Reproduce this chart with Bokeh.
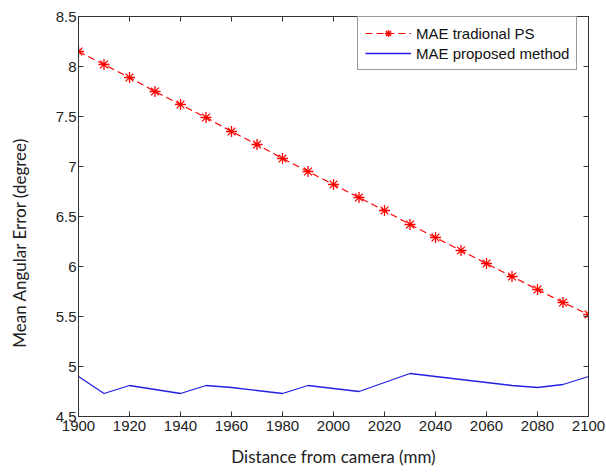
from bokeh.plotting import figure
from bokeh.models import FixedTicker, LinearAxis, Range1d, Legend, LegendItem
from bokeh.embed import file_html
from bokeh.resources import INLINE

distance = [1900, 1910, 1920, 1930, 1940, 1950, 1960, 1970, 1980, 1990, 2000,
            2010, 2020, 2030, 2040, 2050, 2060, 2070, 2080, 2090, 2100]
mae_traditional = [8.15, 8.02, 7.89, 7.75, 7.62, 7.49, 7.35, 7.22, 7.08, 6.95, 6.82,
                   6.69, 6.56, 6.42, 6.29, 6.16, 6.03, 5.90, 5.77, 5.64, 5.52]
mae_proposed = [4.90, 4.73, 4.81, 4.77, 4.73, 4.81, 4.79, 4.76, 4.73, 4.81, 4.78,
                4.75, 4.84, 4.93, 4.90, 4.87, 4.84, 4.81, 4.79, 4.82, 4.90]
x_ticks = [1900, 1920, 1940, 1960, 1980, 2000, 2020, 2040, 2060, 2080, 2100]
y_ticks = [4.5, 5, 5.5, 6, 6.5, 7, 7.5, 8, 8.5]
series_names = ["MAE tradional PS", "MAE proposed method"]
x_title = "Distance from camera (mm)"
y_title = "Mean Angular Error (degree)"

p = figure(width=606, height=472, output_backend="svg", toolbar_location=None,
           x_range=Range1d(1900, 2100), y_range=Range1d(4.5, 8.5),
           min_border_left=78, min_border_right=18, min_border_top=16, min_border_bottom=56,
           background_fill_color="white", border_fill_color="white")
p.grid.visible = False
p.outline_line_color = "#333333"

tick_font = "Liberation Sans"
for ax in (p.xaxis[0], p.yaxis[0]):
    ax.major_label_text_font = tick_font
    ax.major_label_text_font_size = "15px"
    ax.major_label_text_color = "#222222"
    ax.axis_line_color = "#333333"
    ax.major_tick_line_color = "#333333"
    ax.major_tick_in = 5
    ax.major_tick_out = 0
    ax.minor_tick_line_color = None
    ax.axis_label_text_font = "Lato"
    ax.axis_label_text_font_size = "17px"
    ax.axis_label_text_font_style = "normal"
    ax.axis_label_text_color = "#222222"

p.xaxis[0].ticker = FixedTicker(ticks=x_ticks)
p.yaxis[0].ticker = FixedTicker(ticks=y_ticks)
p.yaxis[0].major_label_overrides = {t: f"{t:g}" for t in y_ticks}
p.xaxis[0].major_label_overrides = {t: f"{t:g}" for t in x_ticks}
p.xaxis[0].axis_label = x_title
# trailing non-breaking spaces shift the visible title downward, as in the reference
p.yaxis[0].axis_label = y_title + "\u00a0" * 12
p.xaxis[0].major_label_standoff = 4
p.yaxis[0].major_label_standoff = 2
p.xaxis[0].axis_label_standoff = 12
p.yaxis[0].axis_label_standoff = 23

# mirrored ticks on right and top
for loc, tk in (("right", y_ticks), ("above", x_ticks)):
    ax = LinearAxis(ticker=FixedTicker(ticks=tk), major_label_text_font_size="15px",
                    major_label_overrides={t: "" for t in tk},
                    major_tick_in=5, major_tick_out=0, minor_tick_line_color=None,
                    axis_line_color="#333333", major_tick_line_color="#333333",
                    major_label_standoff=0)
    p.add_layout(ax, loc)

r1 = p.line(distance, mae_traditional, line_color="#ff0000", line_width=1.2, line_dash="7 4")
m1 = p.scatter(distance, mae_traditional, marker="asterisk", size=11,
               line_color="#ff0000", line_width=1.3)
r2 = p.line(distance, mae_proposed, line_color="#2020e0", line_width=1.3)

legend = Legend(items=[LegendItem(label=series_names[0], renderers=[r1, m1]),
                       LegendItem(label=series_names[1], renderers=[r2])],
                location=(279, 346))
legend.label_text_font = tick_font
legend.label_text_font_size = "15px"
legend.label_text_color = "#111111"
legend.glyph_width = 46
legend.glyph_height = 18
legend.label_height = 18
legend.label_standoff = 5
legend.spacing = 2
legend.padding = 7
legend.margin = 0
legend.border_line_color = "#333333"
legend.border_line_width = 1
legend.background_fill_alpha = 1
p.add_layout(legend)

open("out.html", "w").write(file_html(p, INLINE))
